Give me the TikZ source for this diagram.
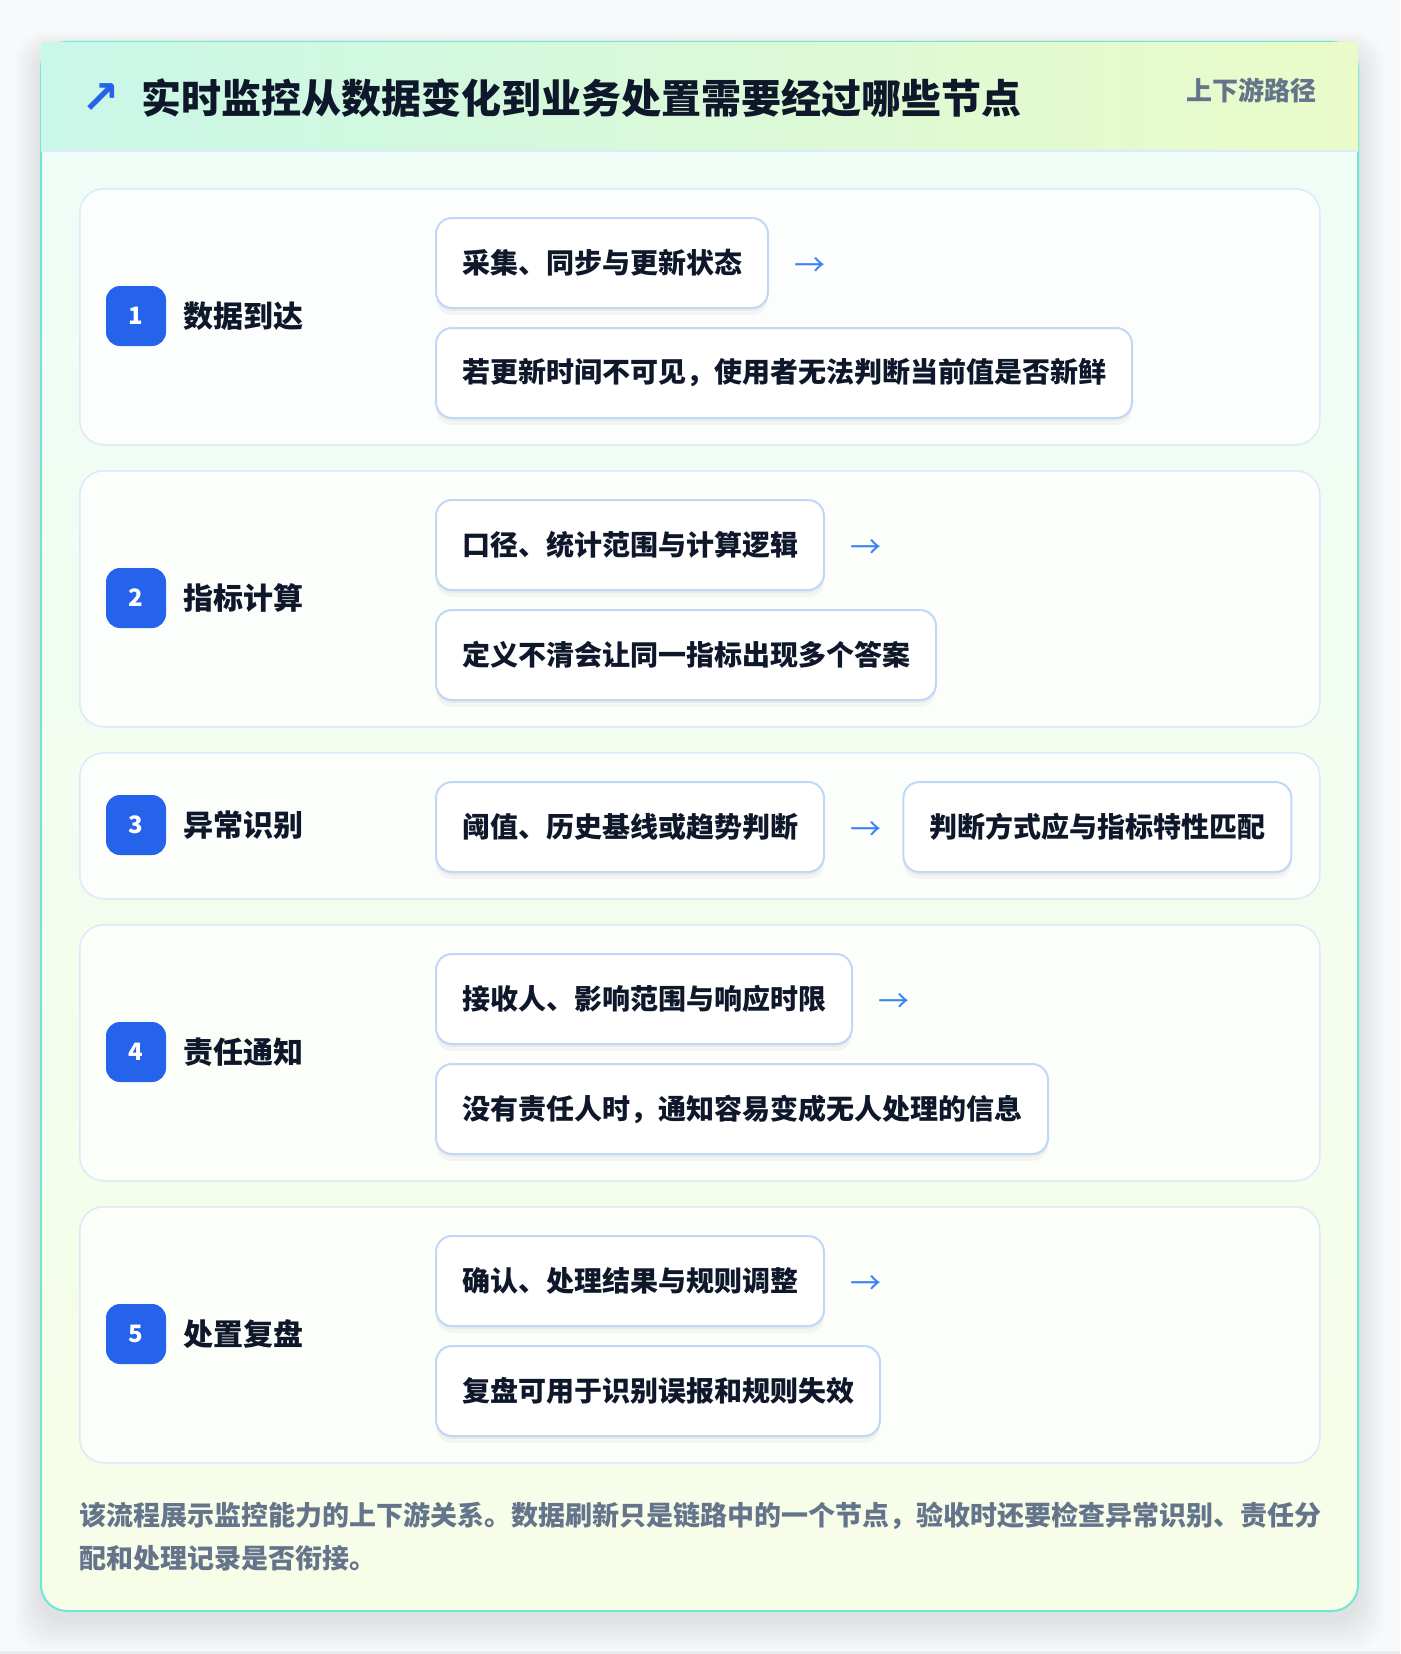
\documentclass[tikz,border=0pt]{standalone}
\usepackage{fontspec}
\setmainfont{Noto Sans CJK SC}
\newfontfamily\symfont{DejaVu Sans}
\usetikzlibrary{shadows}
\definecolor{pagebg}{HTML}{F8F9FA}
\definecolor{stripbg}{HTML}{E9EBEF}
\definecolor{bodyT}{HTML}{EFFDF8}
\definecolor{bodyB}{HTML}{F7FDE7}
\definecolor{hdrL}{HTML}{C9F7E8}
\definecolor{hdrR}{HTML}{EAFBC9}
\definecolor{hdrline}{HTML}{DBEAFE}
\definecolor{cardline}{HTML}{6EE7D3}
\definecolor{rowline}{HTML}{DCE9FB}
\definecolor{boxline}{HTML}{BFD8F8}
\definecolor{ink}{HTML}{0F172A}
\definecolor{slate}{HTML}{64748B}
\definecolor{badgeblue}{HTML}{2563EB}
\definecolor{arrowblue}{HTML}{3B82F6}
\begin{document}
\begin{tikzpicture}[x=1pt,y=-1pt,
  rowcard/.style={draw=rowline, line width=1.5pt, fill=white, fill opacity=0.75, rounded corners=24pt, inner sep=0pt, anchor=north west, minimum width=1240pt},
  badge/.style={fill=badgeblue, rounded corners=14pt, minimum size=60pt, inner sep=0pt, text=white, font=\fontsize{24}{24}\selectfont\bfseries},
  rowlabel/.style={anchor=west, inner sep=0pt, text=ink, font=\fontsize{30}{36}\selectfont\bfseries},
  stepbox/.style={draw=boxline, line width=2pt, fill=white, rounded corners=16pt, minimum height=90pt, inner xsep=26pt, inner ysep=0pt, text=ink, font=\fontsize{28}{34}\selectfont\bfseries,
    drop shadow={shadow xshift=0pt, shadow yshift=-7pt, opacity=0.035, fill=black},
    drop shadow={shadow xshift=0pt, shadow yshift=-3pt, opacity=0.035, fill=black}},
  flowarrow/.style={anchor=west, inner sep=0pt, text=arrowblue, font=\fontsize{31}{31}\selectfont}
]
\useasboundingbox (0,0) rectangle (1400,1654);
\fill[pagebg] (0,0) rectangle (1400,1654);
\fill[stripbg] (0,1651) rectangle (1400,1654);
% card shadow
\foreach \i in {1,...,12}
  \fill[black, opacity=0.006, rounded corners=30pt] (41-\i*2.2, 50-\i*1.5) rectangle (1358+\i*2.2, 1620+\i*2.5);
% card body
\fill[top color=bodyT, bottom color=bodyB, rounded corners=26pt] (41,42) rectangle (1358,1611);
\draw[cardline, line width=2pt, rounded corners=26pt] (41,42) rectangle (1358,1611);
% header
\fill[left color=hdrL, right color=hdrR] (41,43) rectangle (1358,151);
\draw[hdrline, line width=1.5pt] (41,151) -- (1358,151);
\node[text=badgeblue, inner sep=0pt, font=\symfont\fontsize{46}{46}\selectfont\bfseries] (icon) at (101,99) {↗};
\node[anchor=west, inner sep=0pt, text=ink, font=\fontsize{40}{48}\selectfont\bfseries] (title) at (141,98) {实时监控从数据变化到业务处置需要经过哪些节点};
\node[anchor=east, inner sep=0pt, text=slate, font=\fontsize{26}{30}\selectfont\bfseries] (tag) at (1317,90) {上下游路径};

% row 1
\node[rowcard, minimum height=256pt] (r1) at (79,188) {};
\node[badge] (n1) at (136,316) {1};
\node[rowlabel] (l1) at (183,316) {数据到达};
\node[stepbox, anchor=north west] (a1) at (435,217) {采集、同步与更新状态};
\node[flowarrow] (f1) at ([xshift=25pt,yshift=-4pt]a1.east) {→};
\node[stepbox, anchor=north west] (b1) at (435,327) {若更新时间不可见，使用者无法判断当前值是否新鲜};

% row 2
\node[rowcard, minimum height=256pt] (r2) at (79,470) {};
\node[badge] (n2) at (136,598) {2};
\node[rowlabel] (l2) at (183,598) {指标计算};
\node[stepbox, anchor=north west] (a2) at (435,499) {口径、统计范围与计算逻辑};
\node[flowarrow] (f2) at ([xshift=25pt,yshift=-4pt]a2.east) {→};
\node[stepbox, anchor=north west] (b2) at (435,609) {定义不清会让同一指标出现多个答案};

% row 3
\node[rowcard, minimum height=146pt] (r3) at (79,752) {};
\node[badge] (n3) at (136,825) {3};
\node[rowlabel] (l3) at (183,825) {异常识别};
\node[stepbox, anchor=north west] (a3) at (435,781) {阈值、历史基线或趋势判断};
\node[flowarrow] (f3) at ([xshift=25pt,yshift=-4pt]a3.east) {→};
\node[stepbox, anchor=west] (b3) at ([xshift=21pt,yshift=4pt]f3.east) {判断方式应与指标特性匹配};

% row 4
\node[rowcard, minimum height=256pt] (r4) at (79,924) {};
\node[badge] (n4) at (136,1052) {4};
\node[rowlabel] (l4) at (183,1052) {责任通知};
\node[stepbox, anchor=north west] (a4) at (435,953) {接收人、影响范围与响应时限};
\node[flowarrow] (f4) at ([xshift=25pt,yshift=-4pt]a4.east) {→};
\node[stepbox, anchor=north west] (b4) at (435,1063) {没有责任人时，通知容易变成无人处理的信息};

% row 5
\node[rowcard, minimum height=256pt] (r5) at (79,1206) {};
\node[badge] (n5) at (136,1334) {5};
\node[rowlabel] (l5) at (183,1334) {处置复盘};
\node[stepbox, anchor=north west] (a5) at (435,1235) {确认、处理结果与规则调整};
\node[flowarrow] (f5) at ([xshift=25pt,yshift=-4pt]a5.east) {→};
\node[stepbox, anchor=north west] (b5) at (435,1345) {复盘可用于识别误报和规则失效};

% footer
\node[anchor=north west, inner sep=0pt, align=left, text=slate, font=\fontsize{27}{43}\selectfont\bfseries] (note) at (79,1502)
  {该流程展示监控能力的上下游关系。数据刷新只是链路中的一个节点，验收时还要检查异常识别、责任分\\配和处理记录是否衔接。};
\end{tikzpicture}
\end{document}
